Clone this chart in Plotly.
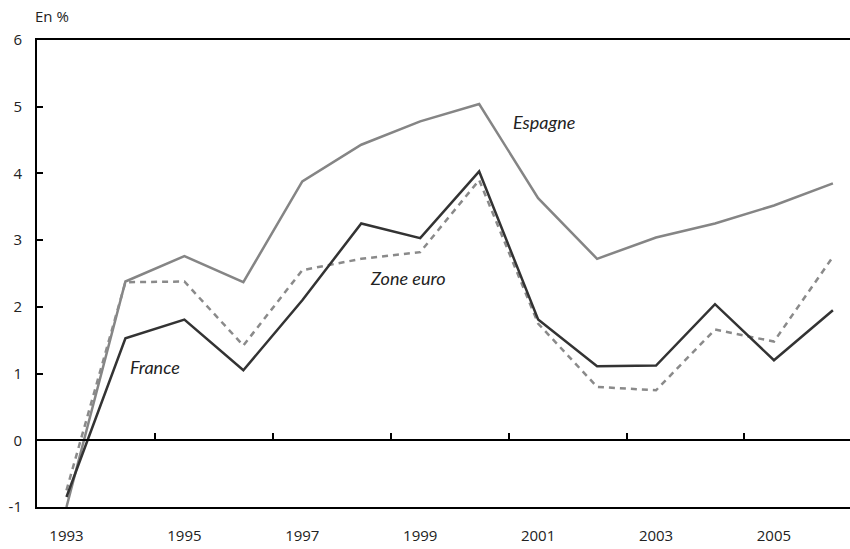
import plotly.graph_objects as go

years = list(range(1993, 2007))
france = [-0.85, 1.53, 1.81, 1.05, 2.10, 3.25, 3.03, 4.03, 1.81, 1.11, 1.12, 2.04, 1.20, 1.95]
espagne = [-1.00, 2.38, 2.76, 2.37, 3.88, 4.43, 4.78, 5.04, 3.63, 2.72, 3.04, 3.25, 3.52, 3.85]
zone_euro = [-0.75, 2.37, 2.38, 1.42, 2.55, 2.72, 2.82, 3.90, 1.75, 0.80, 0.75, 1.66, 1.48, 2.75]
label_years = [1993, 1995, 1997, 1999, 2001, 2003, 2005]
boundary_ticks = [1994.5, 1996.5, 1998.5, 2000.5, 2002.5, 2004.5]
y_ticks = [-1, 0, 1, 2, 3, 4, 5, 6]

FONT = "Open Sans"
AFONT = "Lato"

fig = go.Figure()
fig.add_trace(go.Scatter(x=years, y=espagne, mode="lines", line=dict(color="#858585", width=2.5), name="Espagne"))
fig.add_trace(go.Scatter(x=years, y=zone_euro, mode="lines", line=dict(color="#8a8a8a", width=2.5, dash="6px,5px"), name="Zone euro"))
fig.add_trace(go.Scatter(x=years, y=france, mode="lines", line=dict(color="#333333", width=2.5), name="France"))
# invisible trace for the zero axis
fig.add_trace(go.Scatter(x=years, y=france, mode="lines", line=dict(width=0), xaxis="x2", showlegend=False, hoverinfo="skip", opacity=0))

xr = [1992.5, 2006.29]
fig.update_layout(
    width=850, height=549,
    margin=dict(l=37, r=0, t=40, b=42),
    paper_bgcolor="white", plot_bgcolor="white",
    showlegend=False,
    font=dict(family=FONT, size=15, color="#222"),
    xaxis=dict(range=xr, tickvals=label_years, ticktext=[str(v) for v in label_years],
               ticks="", showline=True, linecolor="black", linewidth=2, mirror=True,
               showgrid=False, zeroline=False, ticklabelstandoff=14),
    xaxis2=dict(range=xr, overlaying="x", anchor="free", position=1/7, side="bottom",
                tickvals=boundary_ticks, ticks="inside", ticklen=6, tickwidth=1.5, tickcolor="black",
                showticklabels=False, showline=True, linecolor="black", linewidth=2,
                showgrid=False, zeroline=False),
    yaxis=dict(range=[-1, 6], tickvals=y_ticks, ticktext=[str(v) for v in y_ticks],
               ticks="inside", ticklen=6, tickwidth=1.5,
               tickcolor="black", showline=True, linecolor="black", linewidth=2,
               showgrid=False, zeroline=False, ticklabelstandoff=10),
    annotations=[
        dict(text="En %", xref="paper", yref="paper", x=-0.005, y=1.0, yshift=24, xanchor="left",
             yanchor="middle", showarrow=False, font=dict(size=15, family=FONT)),
        dict(text="<i>Espagne</i>", x=2001.1, y=4.77, showarrow=False, font=dict(size=18, family=AFONT)),
        dict(text="<i>Zone euro</i>", x=1998.8, y=2.43, showarrow=False, font=dict(size=18, family=AFONT)),
        dict(text="<i>France</i>", x=1994.5, y=1.1, showarrow=False, font=dict(size=18, family=AFONT)),
    ],
)
fig.write_html("out.html", config={"displayModeBar": False},
               post_script="document.body.style.margin='0';document.body.style.overflow='hidden';")
